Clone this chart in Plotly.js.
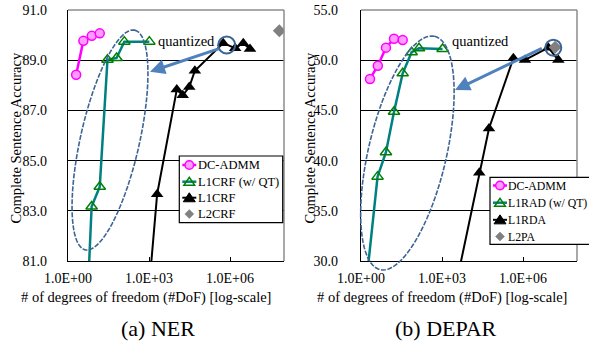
<!DOCTYPE html>
<html><head><meta charset="utf-8">
<script src="https://cdn.plot.ly/plotly-3.0.1.min.js"></script>
<style>html,body{margin:0;padding:0;background:#fff}</style>
</head><body><div id="chart" style="width:589px;height:349px"></div>
<script>
// ---------- data: (a) NER ----------
const nerNames = ['DC-ADMM', 'L1CRF (w/ QT)', 'L1CRF', 'L2CRF'];
const nerAdmmX = [2.0, 3.7, 7.6, 15];
const nerAdmmY = [88.42, 89.77, 89.97, 90.07];
const nerQtX = [4.6, 7.5, 15, 29, 63, 122, 1030];
const nerQtY = [78, 83.17, 83.96, 89.02, 89.09, 89.74, 89.74];
const nerL1X = [850, 2000, 10700, 17700, 31000, 50000, 5.6e5, 1.55e6, 3.1e6, 5.5e6];
const nerL1Y = [79, 83.66, 87.83, 87.6, 87.93, 88.58, 89.68, 89.48, 89.68, 89.45];
const nerL2X = [6.7e7];
const nerL2Y = [90.17];
const nerYTicks = [81, 83, 85, 87, 89, 91];
const nerYText = ['81.0', '83.0', '85.0', '87.0', '89.0', '91.0'];

// ---------- data: (b) DEPAR ----------
const deparNames = ['DC-ADMM', 'L1RAD (w/ QT)', 'L1RDA', 'L2PA'];
const deparAdmmX = [2.15, 4.2, 8.4, 16.7, 35];
const deparAdmmY = [48.13, 49.45, 51.25, 52.14, 52.01];
const deparQtX = [1.6, 4.1, 8.4, 16.7, 35, 75, 141, 1050];
const deparQtY = [28, 38.4, 40.83, 44.87, 48.69, 50.79, 51.18, 51.12];
const deparL1X = [4900, 24000, 55000, 4.4e5, 1.18e6, 8.7e6, 2.04e7];
const deparL1Y = [29.8, 38.8, 43.2, 50.19, 50.02, 51.25, 50.02];
const deparL2X = [1.55e7];
const deparL2Y = [51.28];
const deparYTicks = [30, 35, 40, 45, 50, 55];
const deparYText = ['30.0', '35.0', '40.0', '45.0', '50.0', '55.0'];

// ---------- shared text ----------
const xTickVals = [1, 1e3, 1e6];
const xTickText = ['1.0E+00', '1.0E+03', '1.0E+06'];
const xTitle = '# of degrees of freedom (#DoF) [log-scale]';
const yTitle = 'Complete Sentence Accuracy';
const captions = ['(a) NER', '(b) DEPAR'];
const noteText = 'quantized';

// ---------- styling ----------
const W = 589, H = 349;
const FONT = "'Liberation Serif', 'Times New Roman', serif";
const PX = p => p / W, PY = p => 1 - p / H;
const C = {
  admmLine: '#ff00ff', admmFill: '#ff9cff',
  qtLine: '#008080', qtMark: '#008000',
  l1: '#000000', l2: '#808080',
  ell: '#3d6494', arrow: '#4f81bd'
};

function series(xs, ys, names, xa, ya) {
  return [
    {x: xs[0], y: ys[0], name: names[0], xaxis: xa, yaxis: ya, mode: 'lines+markers', showlegend: false,
     line: {color: C.admmLine, width: 2.5},
     marker: {symbol: 'circle', size: 9, color: C.admmFill, line: {color: C.admmLine, width: 1.5}}},
    {x: xs[1], y: ys[1], name: names[1], xaxis: xa, yaxis: ya, mode: 'lines+markers', showlegend: false,
     line: {color: C.qtLine, width: 2.5},
     marker: {symbol: 'triangle-up-open', size: 10, color: C.qtMark, line: {width: 1.5}}},
    {x: xs[2], y: ys[2], name: names[2], xaxis: xa, yaxis: ya, mode: 'lines+markers', showlegend: false,
     cliponaxis: xa === 'x2' ? false : true,
     line: {color: C.l1, width: 2},
     marker: {symbol: 'triangle-up', size: 11, color: C.l1}},
    {x: xs[3], y: ys[3], name: names[3], xaxis: xa, yaxis: ya, mode: 'markers', showlegend: false,
     marker: {symbol: 'diamond', size: 10, color: C.l2}}
  ];
}

const data = [
  ...series([nerAdmmX, nerQtX, nerL1X, nerL2X], [nerAdmmY, nerQtY, nerL1Y, nerL2Y], nerNames, 'x', 'y'),
  ...series([deparAdmmX, deparQtX, deparL1X, deparL2X], [deparAdmmY, deparQtY, deparL1Y, deparL2Y], deparNames, 'x2', 'y2')
];

function xaxis(dom, anchor) {
  return {type: 'log', range: [0, 8], domain: dom, anchor: anchor,
    tickvals: xTickVals, ticktext: xTickText, ticks: 'inside', ticklen: 4, tickcolor: '#000',
    showgrid: false, zeroline: false, showline: true, linecolor: '#000', linewidth: 1.2,
    tickfont: {family: FONT, size: 14, color: '#000'}, ticklabelstandoff: 4, fixedrange: true};
}
function yaxis(range, tv, tt, anchor, standoff) {
  return {range: range, domain: [PY(261), PY(10)], anchor: anchor,
    tickvals: tv, ticktext: tt, ticks: '', showgrid: true, gridcolor: '#000', gridwidth: 1,
    zeroline: false, showline: true, linecolor: '#000', linewidth: 1.2,
    tickfont: {family: FONT, size: 14, color: '#000'}, ticklabelstandoff: standoff, fixedrange: true};
}

// ---------- decorations (shapes) ----------
const shapes = [];
function frame(x0, x1) {
  shapes.push({type: 'line', xref: 'paper', yref: 'paper', x0: PX(x0), x1: PX(x1), y0: PY(10), y1: PY(10),
    line: {color: '#8c8c8c', width: 1.5}, layer: 'above'});
  shapes.push({type: 'line', xref: 'paper', yref: 'paper', x0: PX(x1), x1: PX(x1), y0: PY(10), y1: PY(261),
    line: {color: '#8c8c8c', width: 1.5}, layer: 'above'});
}
frame(68, 284);
frame(361, 577);

function ellipse(cx, cy, a, b, phiDeg) {
  const phi = phiDeg * Math.PI / 180;
  const ux = Math.sin(phi), uy = -Math.cos(phi);
  const vx = Math.cos(phi), vy = Math.sin(phi);
  let d = '';
  const N = 90;
  for (let i = 0; i <= N; i++) {
    const t = 2 * Math.PI * i / N;
    const px = cx + a * Math.cos(t) * ux + b * Math.sin(t) * vx;
    const py = cy + a * Math.cos(t) * uy + b * Math.sin(t) * vy;
    d += (i === 0 ? 'M' : 'L') + PX(px).toFixed(5) + ',' + PY(py).toFixed(5);
  }
  shapes.push({type: 'path', xref: 'paper', yref: 'paper', path: d + 'Z',
    line: {color: C.ell, width: 1.6, dash: '5px,1.5px'}, layer: 'above'});
}
ellipse(110, 140, 112.6, 29.5, 12.7);
ellipse(407.4, 153, 119.8, 39, 13.15);

function ring(cx, cy, r) {
  shapes.push({type: 'circle', xref: 'paper', yref: 'paper',
    x0: PX(cx - r), x1: PX(cx + r), y0: PY(cy + r), y1: PY(cy - r),
    line: {color: C.ell, width: 2}, layer: 'above'});
}
ring(226.7, 45, 8.5);
ring(553.3, 47.7, 8);

// ---------- custom legends ----------
const annotations = [];
function symPath(kind, cx, cy, s) {
  if (kind === 'tri') {
    const h = s * 0.9, w = s * 0.6;
    return 'M' + PX(cx - w) + ',' + PY(cy + h * 0.45) + 'L' + PX(cx + w) + ',' + PY(cy + h * 0.45) +
      'L' + PX(cx) + ',' + PY(cy - h * 0.55) + 'Z';
  }
  if (kind === 'dia') {
    return 'M' + PX(cx - s / 2) + ',' + PY(cy) + 'L' + PX(cx) + ',' + PY(cy - s / 2) +
      'L' + PX(cx + s / 2) + ',' + PY(cy) + 'L' + PX(cx) + ',' + PY(cy + s / 2) + 'Z';
  }
}
function legend(x0, y0, x1, y1, rows, names, fsize, tOff) {
  shapes.push({type: 'rect', xref: 'paper', yref: 'paper', x0: PX(x0), x1: PX(x1), y0: PY(y1), y1: PY(y0),
    fillcolor: '#fff', line: {color: '#000', width: 1.2}, layer: 'above'});
  const sx = x0 + 10, tx = x0 + tOff;
  shapes.push({type: 'line', xref: 'paper', yref: 'paper', x0: PX(sx - 7), x1: PX(sx + 7), y0: PY(rows[0]), y1: PY(rows[0]),
    line: {color: C.admmLine, width: 2.5}, layer: 'above'});
  shapes.push({type: 'circle', xref: 'paper', yref: 'paper', x0: PX(sx - 4.3), x1: PX(sx + 4.3), y0: PY(rows[0] + 4.3), y1: PY(rows[0] - 4.3),
    fillcolor: C.admmFill, line: {color: C.admmLine, width: 1.5}, layer: 'above'});
  shapes.push({type: 'line', xref: 'paper', yref: 'paper', x0: PX(sx - 7), x1: PX(sx + 7), y0: PY(rows[1]), y1: PY(rows[1]),
    line: {color: C.qtLine, width: 2.5}, layer: 'above'});
  shapes.push({type: 'path', xref: 'paper', yref: 'paper', path: symPath('tri', sx, rows[1], 9),
    fillcolor: 'rgba(0,0,0,0)', line: {color: C.qtMark, width: 1.5}, layer: 'above'});
  shapes.push({type: 'line', xref: 'paper', yref: 'paper', x0: PX(sx - 7), x1: PX(sx + 7), y0: PY(rows[2]), y1: PY(rows[2]),
    line: {color: C.l1, width: 2}, layer: 'above'});
  shapes.push({type: 'path', xref: 'paper', yref: 'paper', path: symPath('tri', sx, rows[2], 10),
    fillcolor: C.l1, line: {color: C.l1, width: 1}, layer: 'above'});
  shapes.push({type: 'path', xref: 'paper', yref: 'paper', path: symPath('dia', sx, rows[3], 9),
    fillcolor: C.l2, line: {color: C.l2, width: 0.5}, layer: 'above'});
  names.forEach((n, i) => annotations.push({xref: 'paper', yref: 'paper', x: PX(tx), y: PY(rows[i]),
    xanchor: 'left', yanchor: 'middle', text: n, showarrow: false,
    font: {family: FONT, size: fsize, color: '#000'}}));
}
legend(179.3, 156, 282.7, 222.7, [165, 181.7, 197.7, 214], nerNames, 12.5, 17);
legend(490, 177.3, 640, 244.3, [185.5, 202.7, 219.8, 236.5], deparNames, 11.8, 15.5);

// ---------- text annotations ----------
function txt(x, y, t, size, angle) {
  annotations.push({xref: 'paper', yref: 'paper', x: PX(x), y: PY(y), xanchor: 'center', yanchor: 'middle',
    text: t, showarrow: false, textangle: angle || 0, font: {family: FONT, size: size, color: '#000'}});
}
txt(186.5, 41.5, noteText, 14.5);
txt(480.5, 40.7, noteText, 14.5);
txt(146, 297, xTitle, 14.5);
txt(442, 297, xTitle, 14.5);
txt(15, 138.5, yTitle, 14.5, -90);
txt(309, 138.5, yTitle, 14.5, -90);
txt(158, 328, captions[0], 22);
txt(446, 328, captions[1], 22);

function arrow(hx, hy, tx, ty) {
  annotations.push({xref: 'paper', yref: 'paper', x: PX(hx), y: PY(hy), ax: tx - hx, ay: ty - hy,
    axref: 'pixel', ayref: 'pixel', text: '', showarrow: true, arrowhead: 2, arrowsize: 1,
    arrowwidth: 3, arrowcolor: C.arrow, standoff: 0, startstandoff: 0});
}
arrow(150, 71.7, 220, 48.3);
arrow(455, 90, 543.3, 47.7);

const layout = {
  width: W, height: H, autosize: false,
  margin: {l: 0, r: 0, t: 0, b: 0},
  paper_bgcolor: '#fff', plot_bgcolor: '#fff',
  showlegend: false,
  xaxis: xaxis([PX(68), PX(284)], 'y'),
  yaxis: yaxis([81, 91], nerYTicks, nerYText, 'x', 17),
  xaxis2: xaxis([PX(361), PX(577)], 'y2'),
  yaxis2: yaxis([30, 55], deparYTicks, deparYText, 'x2', 19),
  shapes: shapes,
  annotations: annotations,
  font: {family: FONT}
};

Plotly.newPlot('chart', data, layout, {displayModeBar: false, staticPlot: true});
</script>
</body></html>
